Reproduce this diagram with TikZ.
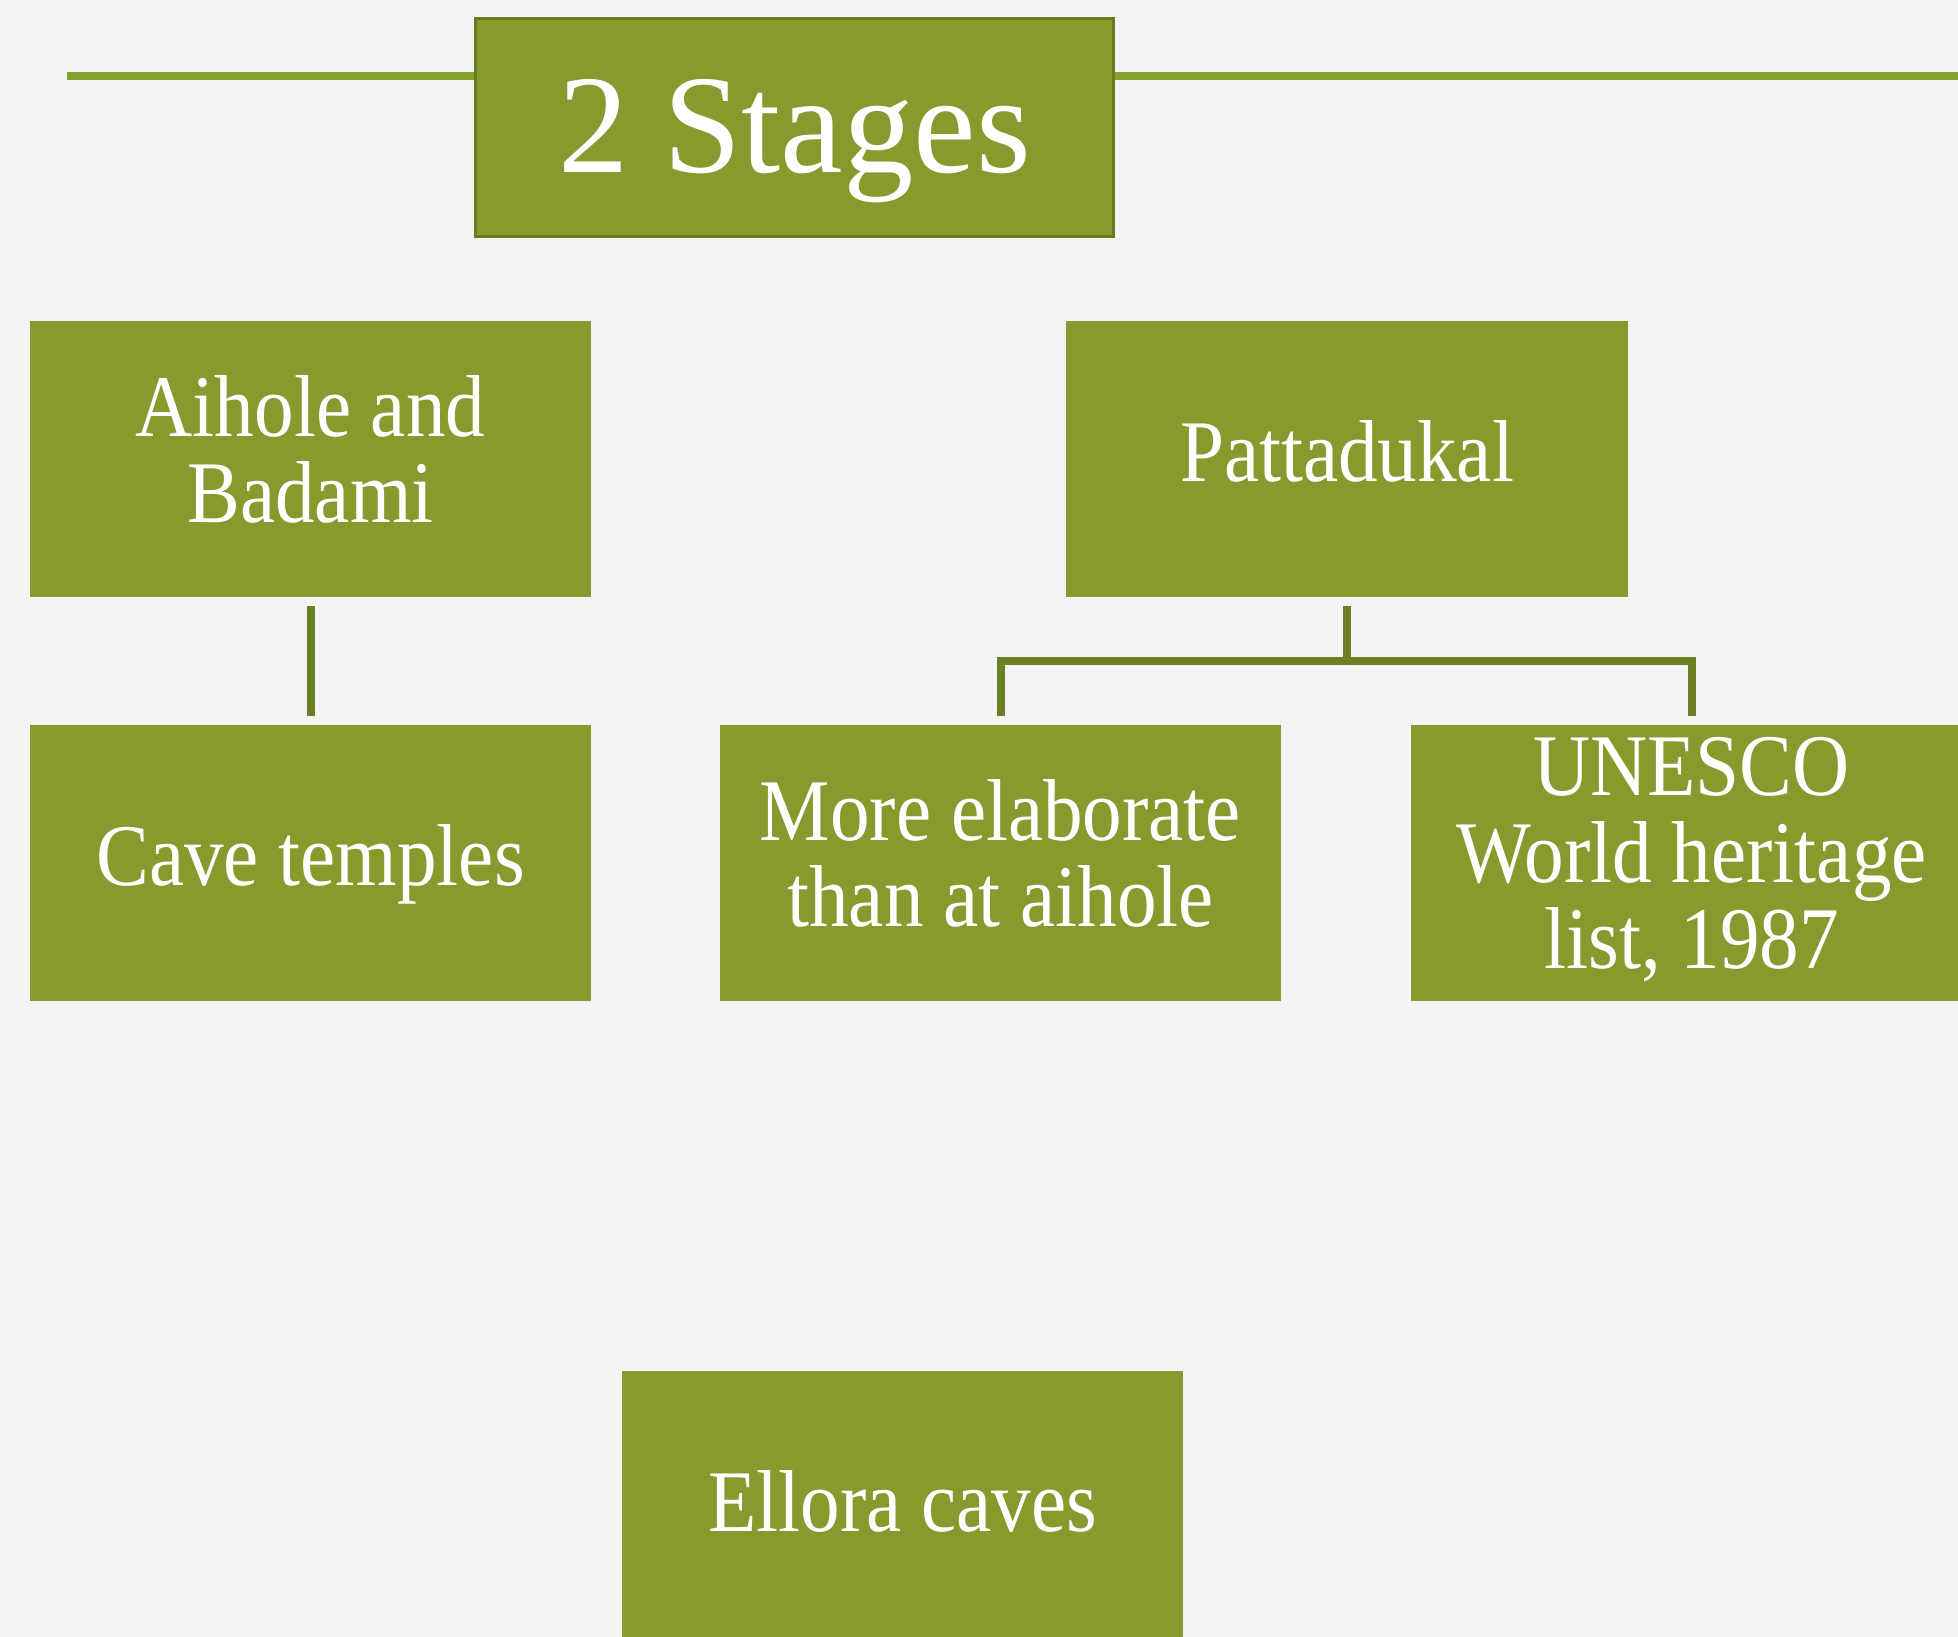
\documentclass[tikz,border=0pt]{standalone}
\usepackage{fontspec}
\setmainfont{Liberation Serif}[FakeStretch=0.9]
\newfontfamily\titlefont{Liberation Serif}
\usepackage{tikz}
\usepackage{xcolor}
\usetikzlibrary{positioning}
\definecolor{OliveBox}{HTML}{869A2E}
\definecolor{OliveEdge}{HTML}{687C1F}
\definecolor{OliveLink}{HTML}{6B8022}
\definecolor{OliveRule}{HTML}{85A02B}
\definecolor{SlideBg}{HTML}{F4F4F4}

\begin{document}
\begin{tikzpicture}[
    x={(0.01cm,0cm)},    % one pixel to the right
    y={(0cm,-0.01cm)},   % one pixel down
    stagebox/.style={fill=OliveBox, text=white, inner sep=0pt, align=center,
        minimum width=5.61cm, minimum height=2.76cm,
        font=\fontsize{25}{24.5}\selectfont,
        execute at begin node={\rule{0pt}{0.64cm}},
        execute at end node={\rule[-0.2cm]{0pt}{0pt}}},
    titlebox/.style={fill=OliveBox, draw=OliveEdge, line width=0.03cm, text=white,
        inner sep=0pt, minimum width=6.38cm, minimum height=2.18cm,
        font=\titlefont\fontsize{40}{40}\selectfont,
        execute at begin node={\rule{0pt}{1.3cm}},
        execute at end node={\rule[-0.4cm]{0pt}{0pt}}},
    link/.style={draw=OliveLink, line width=0.08cm}
]

    % --- Parameters ---
    \def\W{1958}   % Width of the slide
    \def\H{1637}   % Height of the slide
    \def\gap{0.08cm} % Gap between box and connector

    % --- 1. Background ---
    \clip (0,0) rectangle (\W,\H);
    \fill[SlideBg] (0,0) rectangle (\W,\H);

    % --- 2. Title with rule ---
    \coordinate (ruleL) at (67,76);
    \coordinate (ruleR) at (\W,76);
    \draw[OliveRule, line width=0.08cm] (ruleL) -- (ruleR);
    \node[titlebox] (title) at (794.5,127.5) {2 Stages};

    % --- 3. Stage boxes ---
    \node[stagebox] (aihole) at (310.5,459) {Aihole and\\Badami};
    \node[stagebox] (patta)  at (1347,459)  {Pattadukal};
    \node[stagebox] (cave)   at (310.5,863) {Cave temples};
    \node[stagebox] (elab)   at (1000.5,863) {More elaborate\\than at aihole};
    \node[stagebox] (unesco) at (1691.5,863) {UNESCO\\World heritage\\list, 1987};
    \node[stagebox] (ellora) at (902.5,1509) {Ellora caves};

    % --- 4. Connectors ---
    \draw[link, shorten <=\gap, shorten >=\gap] (aihole) -- (cave);

    \coordinate (fork) at (1347,661);
    \draw[link, shorten <=\gap] (patta.south) -- (fork);
    \draw[link, shorten <=\gap, shorten >=\gap] (elab.north) |- (fork) -| (unesco.north);

\end{tikzpicture}
\end{document}
